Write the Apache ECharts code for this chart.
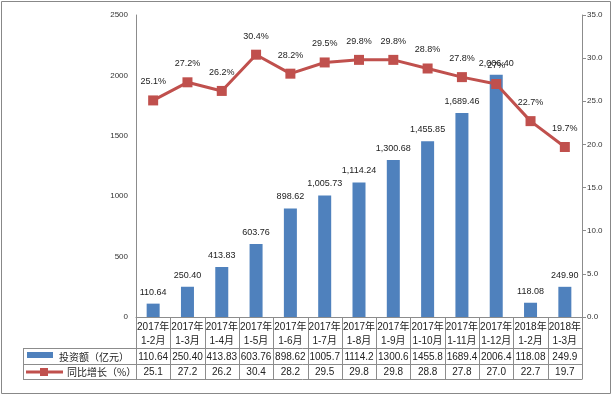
<!DOCTYPE html>
<html>
<head>
<meta charset="utf-8">
<script src="https://cdn.jsdelivr.net/npm/echarts@6/dist/echarts.min.js"></script>
<style>
  html, body { margin: 0; padding: 0; background: #fff; }
  #chart { width: 614px; height: 396px; }
</style>
</head>
<body>
<div id="chart"></div>
<script>
const categories = ['2017年\n1-2月', '2017年\n1-3月', '2017年\n1-4月', '2017年\n1-5月', '2017年\n1-6月',
  '2017年\n1-7月', '2017年\n1-8月', '2017年\n1-9月', '2017年\n1-10月', '2017年\n1-11月',
  '2017年\n1-12月', '2018年\n1-2月', '2018年\n1-3月']
const investment = [110.64, 250.40, 413.83, 603.76, 898.62, 1005.73, 1114.24, 1300.68, 1455.85, 1689.46, 2006.40, 118.08, 249.90]
const growth = [25.1, 27.2, 26.2, 30.4, 28.2, 29.5, 29.8, 29.8, 28.8, 27.8, 27.0, 22.7, 19.7]
// data table texts as shown in the picture (Excel trims them to the cell width)
const tableInvest = ['110.64', '250.40', '413.83', '603.76', '898.62', '1005.7', '1114.2', '1300.6', '1455.8', '1689.4', '2006.4', '118.08', '249.9']
const tableGrowth = growth.map(v => v.toFixed(1))
const leftTicks = { min: 0, max: 2500, interval: 500 }
const rightTicks = { min: 0, max: 35, interval: 5 }

const BLUE = '#4F81BD'
const RED = '#C0504D'
const LINE = '#8c8c8c'
const FONT = '"Liberation Sans", Arial, "Noto Sans CJK SC", sans-serif'

// plot area
const gLeft = 136, gRight = 582, gTop = 15, gBottom = 317
const colW = (gRight - gLeft) / categories.length
const tableLeft = 23, row1 = 348, row2 = 364, row3 = 379

const chart = echarts.init(document.getElementById('chart'))

const graphic = []
// outer frame
graphic.push({ type: 'rect', shape: { x: 1.5, y: 1.5, width: 609, height: 392 },
  style: { fill: 'none', stroke: '#888', lineWidth: 1 }, silent: true })
// table horizontal lines
;[row1, row2, row3].forEach(y => {
  graphic.push({ type: 'line', shape: { x1: tableLeft, y1: y + 0.5, x2: gRight, y2: y + 0.5 },
    style: { stroke: LINE, lineWidth: 1 }, silent: true })
})
// table vertical lines
for (let k = 0; k <= categories.length; k++) {
  const x = Math.round(gLeft + k * colW) + 0.5
  graphic.push({ type: 'line', shape: { x1: x, y1: gBottom, x2: x, y2: row3 + 0.5 },
    style: { stroke: LINE, lineWidth: 1 }, silent: true })
}
graphic.push({ type: 'line', shape: { x1: tableLeft + 0.5, y1: row1, x2: tableLeft + 0.5, y2: row3 + 0.5 },
  style: { stroke: LINE, lineWidth: 1 }, silent: true })
// table values
categories.forEach((c, i) => {
  const cx = gLeft + (i + 0.5) * colW
  graphic.push({ type: 'text', x: cx, y: (row1 + row2) / 2 + 1, silent: true,
    style: { text: tableInvest[i], fill: '#222', font: '10px ' + FONT, align: 'center', verticalAlign: 'middle' } })
  graphic.push({ type: 'text', x: cx, y: (row2 + row3) / 2 + 1, silent: true,
    style: { text: tableGrowth[i], fill: '#222', font: '10px ' + FONT, align: 'center', verticalAlign: 'middle' } })
})
// legend keys inside the table
graphic.push({ type: 'rect', shape: { x: 27, y: 352, width: 26, height: 6 }, style: { fill: BLUE }, silent: true })
graphic.push({ type: 'text', x: 59, y: 357, silent: true,
  style: { text: '投资额（亿元）', fill: '#222', font: '10px "Noto Sans CJK SC", sans-serif', verticalAlign: 'middle' } })
graphic.push({ type: 'line', shape: { x1: 26, y1: 372, x2: 63, y2: 372 }, style: { stroke: RED, lineWidth: 3 }, silent: true })
graphic.push({ type: 'rect', shape: { x: 40, y: 368, width: 8, height: 8 }, style: { fill: RED }, silent: true })
graphic.push({ type: 'text', x: 67, y: 372, silent: true,
  style: { text: '同比增长（%）', fill: '#222', font: '10px "Noto Sans CJK SC", sans-serif', verticalAlign: 'middle' } })

const option = {
  animation: false,
  backgroundColor: '#fff',
  grid: { left: gLeft, right: 614 - gRight, top: gTop, bottom: 396 - gBottom },
  xAxis: {
    type: 'category',
    data: categories,
    axisLine: { lineStyle: { color: LINE } },
    axisTick: { show: false },
    axisLabel: { interval: 0, margin: 3, lineHeight: 14, fontSize: 10, color: '#222', fontFamily: FONT }
  },
  yAxis: [
    {
      type: 'value',
      ...leftTicks,
      axisLine: { show: true, lineStyle: { color: LINE } },
      axisTick: { show: false },
      splitLine: { show: false },
      axisLabel: { fontSize: 8, color: '#333', margin: 8, fontFamily: FONT,
        formatter: v => String(v) }
    },
    {
      type: 'value',
      ...rightTicks,
      position: 'right',
      axisLine: { show: true, lineStyle: { color: LINE } },
      axisTick: { show: true, length: 4, lineStyle: { color: LINE } },
      splitLine: { show: false },
      axisLabel: { fontSize: 8, color: '#333', margin: 5, fontFamily: FONT,
        formatter: v => v.toFixed(1) }
    }
  ],
  series: [
    {
      name: '投资额（亿元）',
      type: 'bar',
      data: investment,
      barWidth: 13,
      itemStyle: { color: BLUE },
      label: {
        show: true, position: 'top', distance: 7, fontSize: 9, color: '#222', fontFamily: FONT,
        formatter: p => p.value.toLocaleString('en-US', { minimumFractionDigits: 2, maximumFractionDigits: 2 })
      }
    },
    {
      name: '同比增长（%）',
      type: 'line',
      yAxisIndex: 1,
      data: growth,
      symbol: 'rect',
      symbolSize: 10,
      lineStyle: { color: RED, width: 3 },
      itemStyle: { color: RED },
      label: {
        show: true, position: 'top', distance: 9, fontSize: 9, color: '#222', fontFamily: FONT,
        formatter: p => (p.value % 1 === 0 ? p.value : p.value.toFixed(1)) + '%'
      }
    }
  ],
  graphic: graphic
}

chart.setOption(option)
</script>
</body>
</html>
